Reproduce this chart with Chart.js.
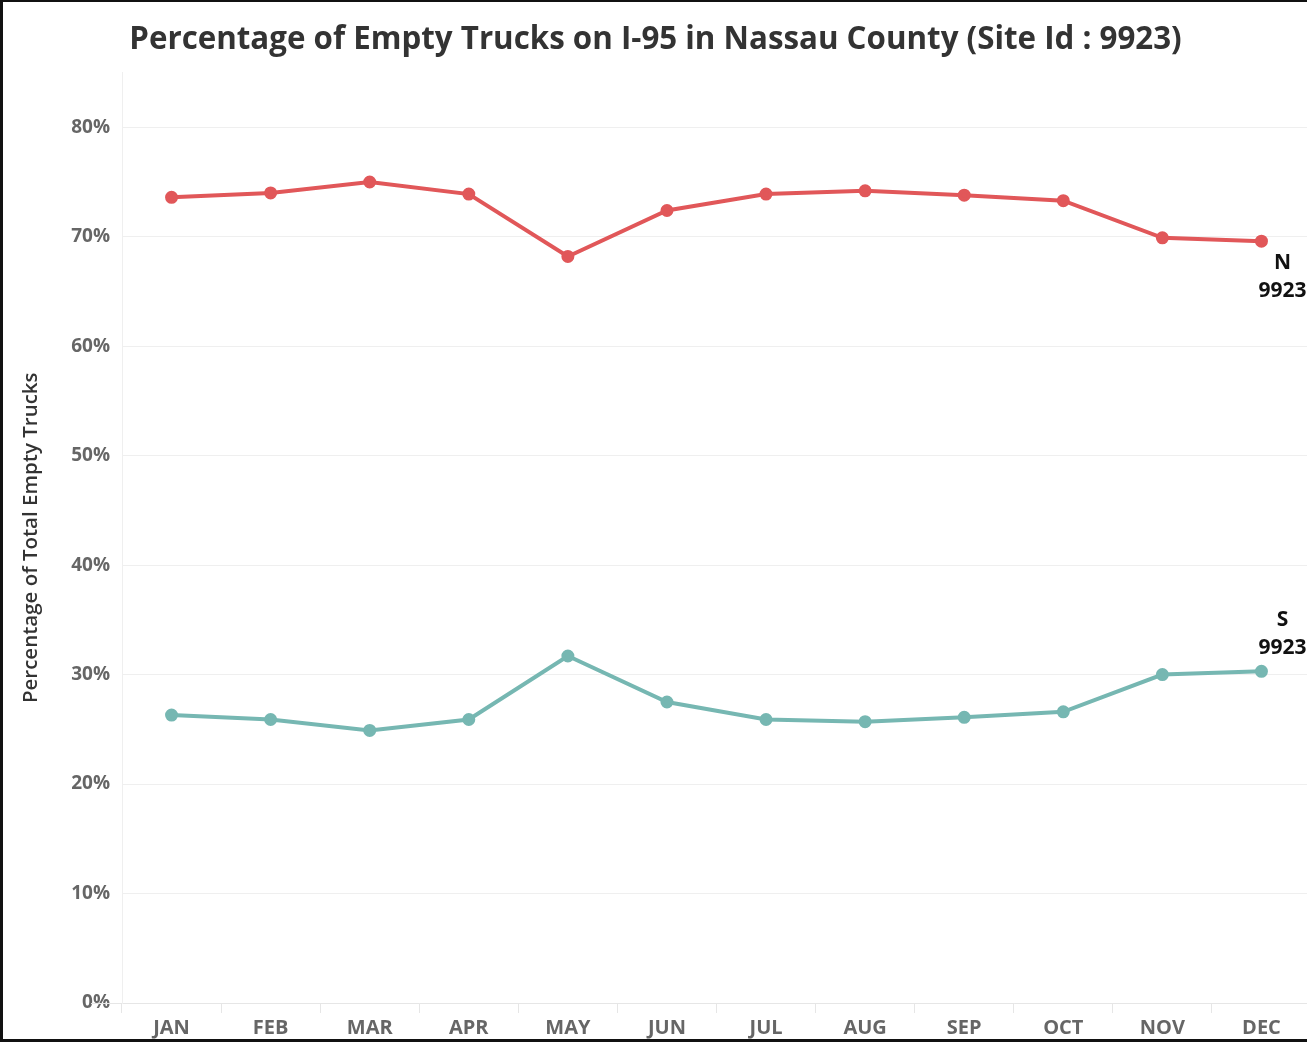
<!DOCTYPE html>
<html>
<head>
<meta charset="utf-8">
<script src="https://cdn.jsdelivr.net/npm/chart.js@4.4.1/dist/chart.umd.min.js"></script>
<style>
    body { margin: 0; background: #fff; overflow: hidden; }
    #wrap { position: relative; width: 1307px; height: 1042px; overflow: hidden; }
    #myChart { position: absolute; left: 0; top: 0; }
    #frame {
        position: absolute; left: 0; top: 0; width: 1307px; height: 1042px;
        box-sizing: border-box; pointer-events: none;
        border-left: 3px solid #111; border-top: 2px solid #111; border-bottom: 3px solid #111;
    }
</style>
</head>
<body>
<div id="wrap">
    <canvas id="myChart" width="1311" height="1042"></canvas>
    <div id="frame"></div>
</div>
<script>
// chart data
const months = ['JAN', 'FEB', 'MAR', 'APR', 'MAY', 'JUN', 'JUL', 'AUG', 'SEP', 'OCT', 'NOV', 'DEC'];
const northValues = [73.6, 74.0, 75.0, 73.9, 68.2, 72.4, 73.9, 74.2, 73.8, 73.3, 69.9, 69.6];
const southValues = [26.3, 25.9, 24.9, 25.9, 31.7, 27.5, 25.9, 25.7, 26.1, 26.6, 30.0, 30.3];
const seriesNames = ['N', 'S'];
const siteId = '9923';
const chartTitle = 'Percentage of Empty Trucks on I-95 in Nassau County (Site Id : 9923)';
const yTitle = 'Percentage of Total Empty Trucks';

const FONT = '"Open Sans"';

// labels at the end of each line + little x-axis stub on the left
const endLabels = {
    id: 'endLabels',
    afterDatasetsDraw(chart) {
        const ctx = chart.ctx;
        const area = chart.chartArea;
        ctx.save();
        ctx.strokeStyle = '#e6e6e6';
        ctx.lineWidth = 1;
        ctx.beginPath();
        ctx.moveTo(91, area.bottom + 0.5);
        ctx.lineTo(area.left, area.bottom + 0.5);
        ctx.stroke();

        ctx.font = 'bold 21px ' + FONT;
        ctx.fillStyle = '#111';
        ctx.textAlign = 'center';
        ctx.textBaseline = 'middle';
        chart.data.datasets.forEach(function (ds, i) {
            const meta = chart.getDatasetMeta(i);
            const pt = meta.data[meta.data.length - 1];
            const x = pt.x + 21;
            if (i == 0) {
                ctx.fillText(seriesNames[i], x, pt.y + 22);
                ctx.fillText(siteId, x, pt.y + 50);
            } else {
                ctx.fillText(seriesNames[i], x, pt.y - 51);
                ctx.fillText(siteId, x, pt.y - 23);
            }
        });
        ctx.restore();
    }
};

var ctx = document.getElementById('myChart');
var chart = new Chart(ctx, {
    type: 'line',
    data: {
        labels: months,
        datasets: [
            {
                label: seriesNames[0],
                data: northValues,
                borderColor: '#e15759',
                backgroundColor: '#e15759',
                borderWidth: 4,
                pointRadius: 4.5,
                pointHoverRadius: 4.5,
                tension: 0,
            },
            {
                label: seriesNames[1],
                data: southValues,
                borderColor: '#76b7b2',
                backgroundColor: '#76b7b2',
                borderWidth: 4,
                pointRadius: 4.5,
                pointHoverRadius: 4.5,
                tension: 0,
            },
        ],
    },
    options: {
        responsive: false,
        animation: false,
        layout: { autoPadding: false, padding: { left: 0, right: 0, top: 0, bottom: 0 } },
        scales: {
            x: {
                offset: true,
                grid: {
                    offset: true,
                    drawOnChartArea: false,
                    drawTicks: true,
                    tickLength: 10,
                    color: '#e6e6e6',
                },
                border: { display: true, color: '#e6e6e6' },
                ticks: {
                    color: '#666',
                    padding: 3,
                    font: { family: FONT, size: 20, weight: 'bold' },
                },
                afterFit: function (scale) { scale.height = 39; },
            },
            y: {
                min: 0,
                max: 85,
                grid: { color: '#efefef', drawTicks: false },
                border: { display: true, color: '#efefef' },
                ticks: {
                    stepSize: 10,
                    includeBounds: false,
                    padding: 12,
                    color: '#666',
                    font: { family: FONT, size: 19, weight: 'bold' },
                    callback: function (v) { return v + '%'; },
                },
                title: {
                    display: true,
                    text: yTitle,
                    color: '#333',
                    padding: { top: 19, bottom: 0 },
                    font: { family: FONT, size: 20.5, weight: '600' },
                },
                afterFit: function (scale) { scale.width = 122; },
            },
        },
        plugins: {
            legend: { display: false },
            tooltip: { enabled: false },
            title: {
                display: true,
                text: chartTitle,
                color: '#333',
                padding: { top: 21, bottom: 14 },
                font: { family: FONT, size: 31.3, weight: 'bold', lineHeight: 1.2 },
            },
        },
    },
    plugins: [endLabels],
});
</script>
</body>
</html>
